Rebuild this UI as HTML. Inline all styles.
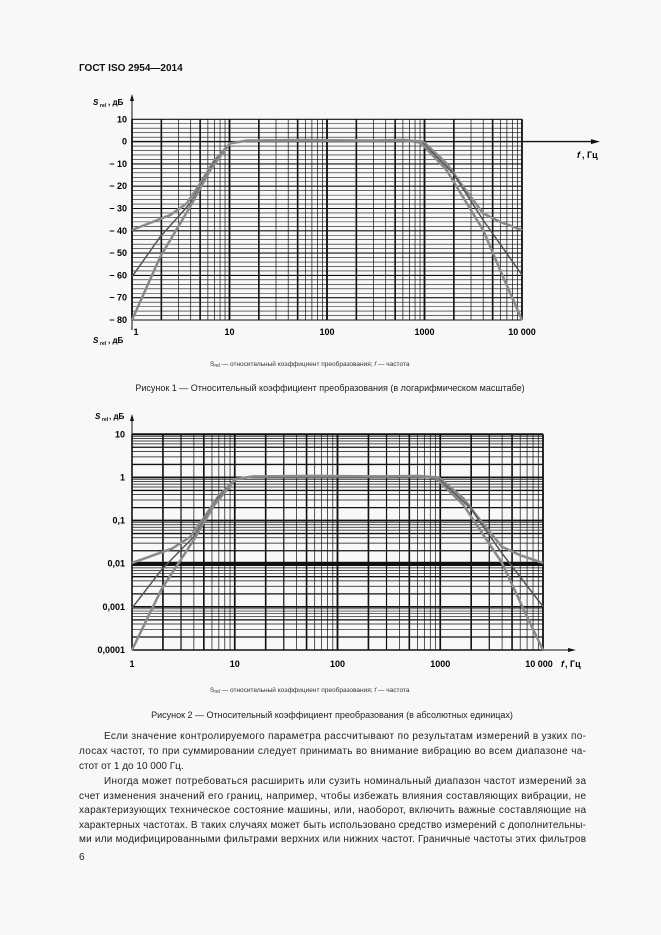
<!DOCTYPE html>
<html><head><meta charset="utf-8">
<style>
html,body{margin:0;padding:0;background:#f8f8f8;}
svg{display:block;font-family:"Liberation Sans","Noto Sans CJK SC",sans-serif;}
</style></head>
<body>
<svg id="s" width="661" height="935" viewBox="0 0 661 935" xmlns="http://www.w3.org/2000/svg">
<rect width="661" height="935" fill="#f8f8f8"/>
<text x="79" y="71" font-size="10" font-weight="bold" fill="#111">ГОСТ ISO 2954—2014</text>
<text x="210" y="366" font-size="6.5" fill="#333">S<tspan font-size="5" dy="1">rel</tspan><tspan dy="-1"> — относительный коэффициент преобразования; </tspan><tspan font-style="italic">f</tspan> — частота</text>
<text x="330" y="391" font-size="9" fill="#222" text-anchor="middle">Рисунок 1 — Относительный коэффициент преобразования (в логарифмическом масштабе)</text>
<text x="210" y="692" font-size="6.5" fill="#333">S<tspan font-size="5" dy="1">rel</tspan><tspan dy="-1"> — относительный коэффициент преобразования; </tspan><tspan font-style="italic">f</tspan> — частота</text>
<text x="332" y="718" font-size="9" fill="#222" text-anchor="middle">Рисунок 2 — Относительный коэффициент преобразования (в абсолютных единицах)</text>
<g font-size="10" fill="#222">
<text x="104" y="739" textLength="482" lengthAdjust="spacing">Если значение контролируемого параметра рассчитывают по результатам измерений в узких по-</text>
<text x="79" y="754" textLength="507" lengthAdjust="spacing">лосах частот, то при суммировании следует принимать во внимание вибрацию во всем диапазоне ча-</text>
<text x="79" y="769">стот от 1 до 10 000 Гц.</text>
<text x="104" y="784" textLength="482" lengthAdjust="spacing">Иногда может потребоваться расширить или сузить номинальный диапазон частот измерений за</text>
<text x="79" y="799" textLength="507" lengthAdjust="spacing">счет изменения значений его границ, например, чтобы избежать влияния составляющих вибрации, не</text>
<text x="79" y="813" textLength="507" lengthAdjust="spacing">характеризующих техническое состояние машины, или, наоборот, включить важные составляющие на</text>
<text x="79" y="828" textLength="507" lengthAdjust="spacing">характерных частотах. В таких случаях может быть использовано средство измерений с дополнительны-</text>
<text x="79" y="842" textLength="507" lengthAdjust="spacing">ми или модифицированными фильтрами верхних или нижних частот. Граничные частоты этих фильтров</text>
<text x="79" y="860">6</text>
</g>
</svg>
<script>
(function(){
var s=document.getElementById('s'),NS='http://www.w3.org/2000/svg';
function el(t,a,txt){var e=document.createElementNS(NS,t);for(var k in a)e.setAttribute(k,a[k]);if(txt!=null)e.textContent=txt;s.appendChild(e);return e;}
function line(x1,y1,x2,y2,w,c){el('line',{x1:x1,y1:y1,x2:x2,y2:y2,stroke:c||'#111','stroke-width':w});}
var Z=function(zx,zy){return [(zx-185)/293,10-(zy-88)/(602/90)];};
var curves=[
 [[185,420],[300,375],[350,340],[390,280],[430,215],[480,160],[530,152],[700,150],[900,152],[1000,150],[1060,155],[1130,220],[1180,290],[1240,370],[1290,395],[1357,420]],
 [[185,560],[270,440],[360,340],[430,220],[480,160],[530,152],[1000,152],[1060,160],[1150,250],[1240,390],[1357,555]],
 [[185,690],[270,500],[360,350],[420,240],[480,160],[530,152],[1000,152],[1050,155],[1130,240],[1240,420],[1300,560],[1357,690]]
].map(function(c){return c.map(function(p){return Z(p[0],p[1]);});});
var x0=132,x1=522,yT=119.3,yB=320;
function X1(l){return x0+(x1-x0)*l/4;}
function Y1(d){return yT+(10-d)*(yB-yT)/90;}
for(var d=10;d>=-80;d-=2)line(x0,Y1(d),x1,Y1(d),d%10==0?1.1:0.6);
for(var dec=0;dec<4;dec++)for(var m=1;m<=10;m++){var l=dec+Math.log10(m);var th=(m==2||m==5||m==10||m==1)?1.6:0.7;line(X1(l),yT,X1(l),yB,th);}
line(x0,yT,x0,yB,1.5);line(x1,yT,x1,yB,1.5);
line(x0,97,x0,yB+10,1);el('path',{d:'M'+x0+' 94 l-2 7 h4z',fill:'#111'});
line(x0,Y1(0),595,Y1(0),1.4);el('path',{d:'M600 '+Y1(0)+' l-9 -2.5 v5z',fill:'#111'});
el('text',{x:577,y:158,'font-size':9,'font-weight':'bold','font-style':'italic'},'f');el('text',{x:582,y:158,'font-size':9,'font-weight':'bold'},', Гц');
el('text',{x:93,y:105,'font-size':8,'font-weight':'bold','font-style':'italic'},'S');el('text',{x:100,y:107,'font-size':5,'font-weight':'bold'},'rel');el('text',{x:108,y:105,'font-size':8,'font-weight':'bold'},', дБ');
el('text',{x:93,y:343,'font-size':8,'font-weight':'bold','font-style':'italic'},'S');el('text',{x:100,y:345,'font-size':5,'font-weight':'bold'},'rel');el('text',{x:108,y:343,'font-size':8,'font-weight':'bold'},', дБ');
for(var d=10;d>=-80;d-=10)el('text',{x:127,y:Y1(d)+3,'font-size':9,'font-weight':'bold','text-anchor':'end'},d<0?'− '+(-d):''+d);
var lb=['1','10','100','1000','10 000'];
[136,X1(1),X1(2),X1(3),X1(4)].forEach(function(x,i){el('text',{x:x,y:335,'font-size':9,'font-weight':'bold','text-anchor':'middle'},lb[i]);});
function draw(mx,my){curves.forEach(function(c,i){var pts=c.map(function(p){return mx(p[0]).toFixed(1)+','+my(p[1]).toFixed(1);}).join(' ');
 el('polyline',{points:pts,fill:'none',stroke:i==1?'#555':'#8a8a8a','stroke-width':i==1?1.5:2.5,'stroke-linejoin':'round'});});}
draw(X1,Y1);
var a0=132,a1=543,bT=434.3,bB=650;
function X2(l){return a0+(a1-a0)*l/4;}
function Y2(lg){return bT+(1-lg)*(bB-bT)/5;}
for(var dec=-4;dec<1;dec++)for(var m=1;m<=10;m++){var l=dec+Math.log10(m);var th=(m==1||m==10)?1.6:(m==2||m==5)?1.3:0.7;line(a0,Y2(l),a1,Y2(l),th);}
line(a0,Y2(-2),a1,Y2(-2),4);
for(var dec=0;dec<4;dec++)for(var m=1;m<=10;m++){var l=dec+Math.log10(m);var th=(m==2||m==5||m==10||m==1)?1.6:(m==3)?1.2:0.7;line(X2(l),bT,X2(l),bB,th);}
line(a0,bT,a1,bT,2);line(a1,bT,a1,bB,1.5);
line(a0,418,a0,bB,1);el('path',{d:'M'+a0+' 414 l-2 7 h4z',fill:'#111'});
line(a0,bB,572,bB,1);el('path',{d:'M576 '+bB+' l-8 -2 v4z',fill:'#111'});
el('text',{x:95,y:419,'font-size':8,'font-weight':'bold','font-style':'italic'},'S');el('text',{x:102,y:421,'font-size':5,'font-weight':'bold'},'rel');el('text',{x:109,y:419,'font-size':8,'font-weight':'bold'},', дБ');
['10','1','0,1','0,01','0,001','0,0001'].forEach(function(t,i){el('text',{x:125,y:Y2(1-i)+3,'font-size':9,'font-weight':'bold','text-anchor':'end'},t);});
['1','10','100','1000','10 000'].forEach(function(t,i){el('text',{x:X2(i)+(i==4?-4:0),y:667,'font-size':9,'font-weight':'bold','text-anchor':'middle'},t);});
el('text',{x:561,y:667,'font-size':9,'font-weight':'bold','font-style':'italic'},'f');el('text',{x:565,y:667,'font-size':9,'font-weight':'bold'},', Гц');
draw(X2,function(d){return Y2(d/20);});
})();
</script>
</body></html>
